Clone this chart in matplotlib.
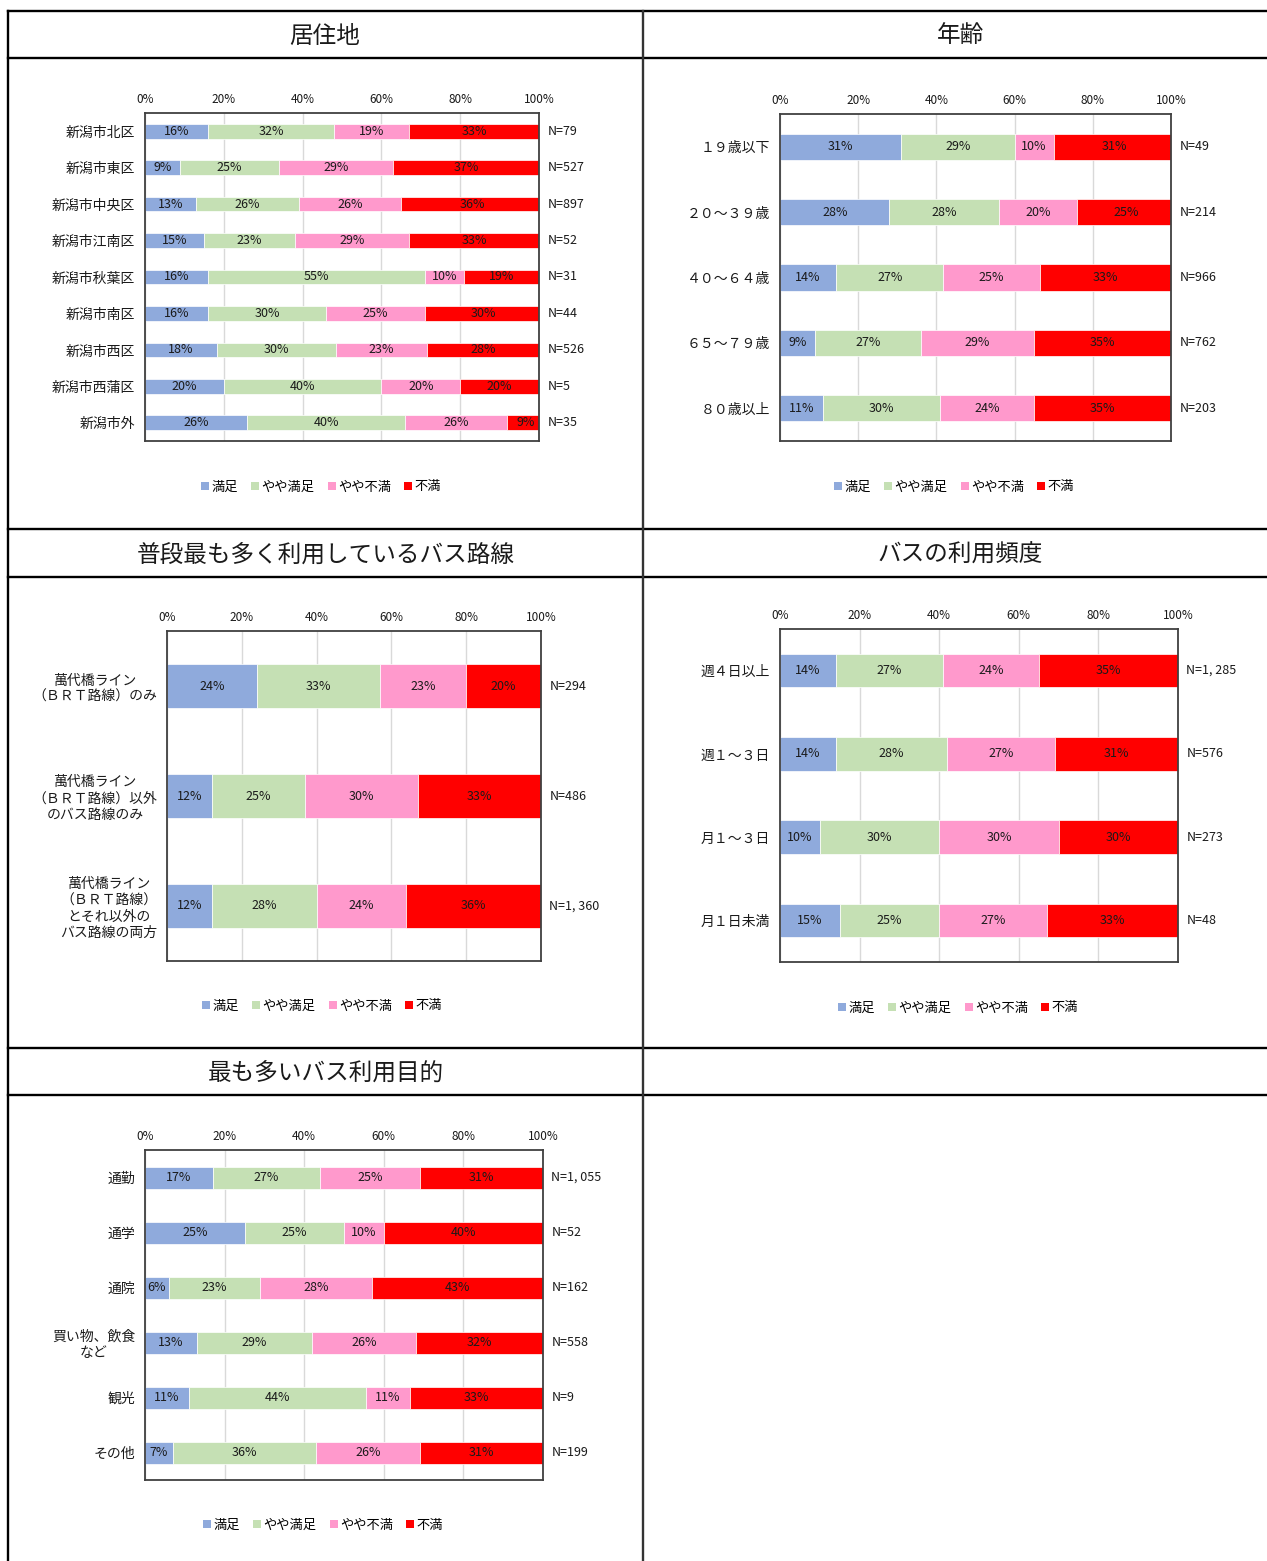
import matplotlib
matplotlib.use("Agg")
import matplotlib.pyplot as plt
from matplotlib.patches import Patch

plt.rcParams['font.family'] = ['Noto Sans CJK JP', 'DejaVu Sans']

W, H = 1267, 1561

series_names = ['満足', 'やや満足', 'やや不満', '不満']
series_colors = ['#8FAADC', '#C5E0B4', '#FF99CC', '#FF0000']

# 居住地
area_cats = ['新潟市北区', '新潟市東区', '新潟市中央区', '新潟市江南区', '新潟市秋葉区',
             '新潟市南区', '新潟市西区', '新潟市西蒲区', '新潟市外']
area_sat = [16, 9, 13, 15, 16, 16, 18.3, 20, 26]
area_ssat = [32, 25, 26, 23, 55, 30, 30.2, 40, 40]
area_sdis = [19, 29, 26, 29, 10, 25, 23.1, 20, 26]
area_dis = [33, 37, 36, 33, 19, 30, 28.4, 20, 9]
area_n = ['N=79', 'N=527', 'N=897', 'N=52', 'N=31', 'N=44', 'N=526', 'N=5', 'N=35']

# 年齢
age_cats = ['１９歳以下', '２０～３９歳', '４０～６４歳', '６５～７９歳', '８０歳以上']
age_sat = [31, 28, 14.4, 9, 11]
age_ssat = [29, 28, 27.3, 27, 30]
age_sdis = [10, 20, 24.9, 29, 24]
age_dis = [31, 25, 33.4, 35, 35]
age_n = ['N=49', 'N=214', 'N=966', 'N=762', 'N=203']

# 普段最も多く利用しているバス路線
route_cats = ['萬代橋ライン\n（ＢＲＴ路線）のみ',
              '萬代橋ライン\n（ＢＲＴ路線）以外\nのバス路線のみ',
              '萬代橋ライン\n（ＢＲＴ路線）\nとそれ以外の\nバス路線の両方']
route_sat = [24, 12, 12]
route_ssat = [33, 25, 28]
route_sdis = [23, 30, 24]
route_dis = [20, 33, 36]
route_n = ['N=294', 'N=486', 'N=1, 360']

# バスの利用頻度
freq_cats = ['週４日以上', '週１～３日', '月１～３日', '月１日未満']
freq_sat = [14, 14, 10, 15]
freq_ssat = [27, 28, 30, 25]
freq_sdis = [24, 27, 30, 27]
freq_dis = [35, 31, 30, 33]
freq_n = ['N=1, 285', 'N=576', 'N=273', 'N=48']

# 最も多いバス利用目的
purp_cats = ['通勤', '通学', '通院', '買い物、飲食\nなど', '観光', 'その他']
purp_sat = [17, 25, 6, 13, 11.1, 7]
purp_ssat = [27, 25, 23, 29, 44.4, 36]
purp_sdis = [25, 10, 28, 26, 11.1, 26]
purp_dis = [31, 40, 43, 32, 33.4, 31]
purp_n = ['N=1, 055', 'N=52', 'N=162', 'N=558', 'N=9', 'N=199']


fig = plt.figure(figsize=(W / 100, H / 100), dpi=100)


def px_axes(l, t, r, b):
    return fig.add_axes([l / W, 1 - b / H, (r - l) / W, (b - t) / H])


def hline(y, x0, x1, color='black', lw=1.7):
    fig.add_artist(plt.Line2D([x0 / W, x1 / W], [1 - y / H, 1 - y / H],
                              color=color, lw=lw, transform=fig.transFigure))


def vline(x, y0, y1, color='black', lw=1.7):
    fig.add_artist(plt.Line2D([x / W, x / W], [1 - y0 / H, 1 - y1 / H],
                              color=color, lw=lw, transform=fig.transFigure))


def panel(box, cats, series, nlabels, legend_xy):
    ax = px_axes(*box)
    n = len(cats)
    ys = list(range(n))
    left = [0] * n
    for vals, color in zip(series, series_colors):
        ax.barh(ys, vals, left=left, height=0.4, color=color,
                edgecolor='white', linewidth=0.5, zorder=2)
        for y, v, l in zip(ys, vals, left):
            ax.text(l + v / 2, y, f'{v:.0f}%', ha='center', va='center',
                    fontsize=9, color='#1a1a1a', zorder=3)
        left = [a + b for a, b in zip(left, vals)]
    for y, lab in zip(ys, nlabels):
        ax.annotate(lab, xy=(100, y), xytext=(6, 0), textcoords='offset points',
                    ha='left', va='center', fontsize=9, color='#1a1a1a',
                    annotation_clip=False)
    ax.set_xlim(0, 100)
    ax.set_ylim(n - 0.5, -0.5)
    ax.set_xticks([0, 20, 40, 60, 80, 100])
    ax.set_xticklabels(['0%', '20%', '40%', '60%', '80%', '100%'], fontsize=8.5)
    ax.xaxis.tick_top()
    ax.tick_params(axis='x', length=0, pad=5, colors='#1a1a1a')
    ax.set_yticks(ys)
    ax.set_yticklabels(cats, fontsize=10)
    ax.tick_params(axis='y', length=0, pad=7, colors='#1a1a1a')
    for t in ax.get_yticklabels():
        t.set_multialignment('center')
    ax.grid(axis='x', color='#D9D9D9', lw=1, zorder=0)
    ax.set_axisbelow(True)
    for s in ax.spines.values():
        s.set_color('#404040')
        s.set_linewidth(1.3)
    handles = [Patch(facecolor=c, label=nm) for c, nm in zip(series_colors, series_names)]
    ax.legend(handles=handles, ncol=4, loc='center', frameon=False,
              bbox_to_anchor=(legend_xy[0] / W, 1 - legend_xy[1] / H),
              bbox_transform=fig.transFigure, fontsize=9.5,
              handlelength=0.6, handleheight=0.6, handletextpad=0.2,
              columnspacing=1.0)
    return ax


panel((145, 113, 539, 441), area_cats,
      [area_sat, area_ssat, area_sdis, area_dis], area_n, (321, 487))
panel((780, 114, 1171, 441), age_cats,
      [age_sat, age_ssat, age_sdis, age_dis], age_n, (954, 487))
panel((167, 631, 541, 961), route_cats,
      [route_sat, route_ssat, route_sdis, route_dis], route_n, (322, 1006))
panel((780, 629, 1178, 962), freq_cats,
      [freq_sat, freq_ssat, freq_sdis, freq_dis], freq_n, (958, 1008))
panel((145, 1150, 543, 1480), purp_cats,
      [purp_sat, purp_ssat, purp_sdis, purp_dis], purp_n, (323, 1525))

# table grid
for y in [11, 58, 529, 577, 1048, 1095]:
    hline(y, 8, W)
vline(8, 11, H)
vline(643, 11, H, color='#333333')

titles = [('居住地', 325, 36), ('年齢', 960, 36),
          ('普段最も多く利用しているバス路線', 326, 555),
          ('バスの利用頻度', 960, 555),
          ('最も多いバス利用目的', 326, 1073)]
for txt, x, y in titles:
    fig.text(x / W, 1 - y / H, txt, ha='center', va='center', fontsize=17,
             color='#1a1a1a')

fig.savefig('out.png', dpi=100)
